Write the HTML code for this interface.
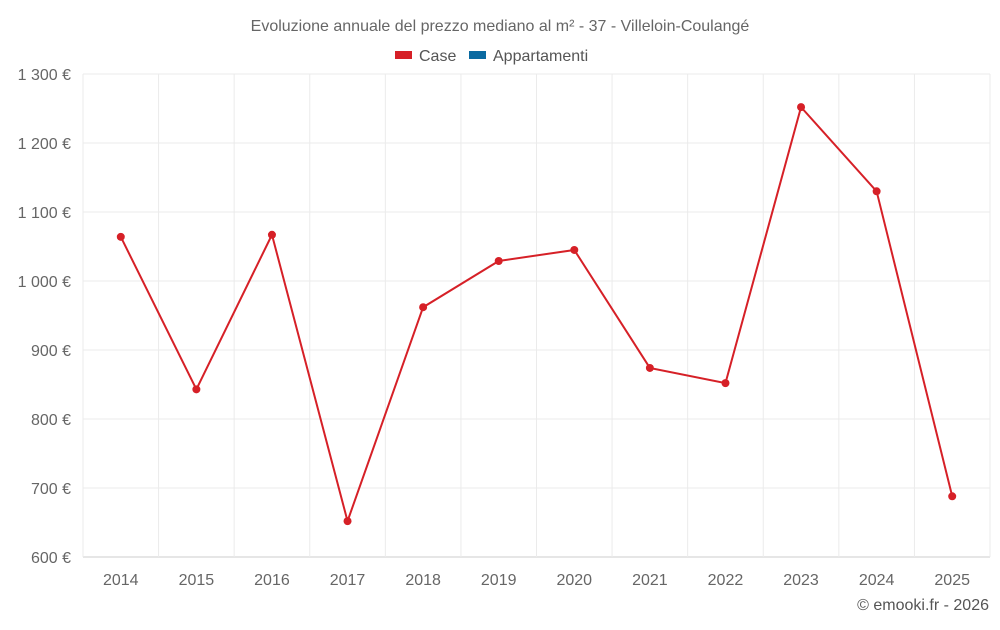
<!DOCTYPE html>
<html><head><meta charset="utf-8"><style>
body{margin:0;background:#fff;font-family:"Liberation Sans",sans-serif;}
svg text{font-family:"Liberation Sans",sans-serif;}
</style></head><body>
<svg id="chart" width="1000" height="625" xmlns="http://www.w3.org/2000/svg">
<text x="500" y="31" text-anchor="middle" font-size="16" fill="#666">Evoluzione annuale del prezzo mediano al m² - 37 - Villeloin-Coulangé</text>
<g><rect x="395" y="51" width="17" height="8" fill="#d62027"/><text x="419" y="61" font-size="16" fill="#555">Case</text></g>
<g><rect x="469" y="51" width="17" height="8" fill="#0a6aa1"/><text x="493" y="61" font-size="16" fill="#555">Appartamenti</text></g>
<g id="grid"></g><g id="axes"></g><g id="series"></g>
<text x="989" y="610" text-anchor="end" font-size="16" fill="#555">© emooki.fr - 2026</text>
</svg>
<script>
const categories=["2014","2015","2016","2017","2018","2019","2020","2021","2022","2023","2024","2025"];
const caseValues=[1064,843,1067,652,962,1029,1045,874,852,1252,1130,688];
const yTicks=[600,700,800,900,1000,1100,1200,1300];
const tickLabels=["600 €","700 €","800 €","900 €","1 000 €","1 100 €","1 200 €","1 300 €"];
const L=83,R=990,T=74,B=557,yMin=600,yMax=1300;
const NS="http://www.w3.org/2000/svg";
const bw=(R-L)/categories.length;
const x=i=>L+bw*(i+0.5);
const y=v=>B-(v-yMin)/(yMax-yMin)*(B-T);
function mk(t,a,p){const e=document.createElementNS(NS,t);for(const k in a)e.setAttribute(k,a[k]);p.appendChild(e);return e;}
const grid=document.getElementById('grid'),axes=document.getElementById('axes'),ser=document.getElementById('series');
yTicks.forEach((v,i)=>{
 const l=mk('line',{x1:L,x2:R,y1:y(v),y2:y(v),stroke:i==0?'#ccc':'#ebebeb'},grid);
 
 
 const t=mk('text',{x:71,y:y(v)+6,'text-anchor':'end','font-size':16,fill:'#666'},axes);
 t.textContent=tickLabels[i];
 
 
});
for(let i=0;i<=categories.length;i++){
 const l=mk('line',{x1:L+bw*i,x2:L+bw*i,y1:T,y2:B,stroke:'#ebebeb'},grid);
 
 
}
categories.forEach((c,i)=>{
 const t=mk('text',{x:x(i),y:585,'text-anchor':'middle','font-size':16,fill:'#666'},axes);
 t.textContent=c;
 
 
});
const pl=mk('polyline',{points:caseValues.map((v,i)=>x(i)+','+y(v)).join(' '),fill:'none',stroke:'#d62027','stroke-width':2},ser);


caseValues.forEach((v,i)=>{
 const c=mk('circle',{cx:x(i),cy:y(v),r:4,fill:'#d62027'},ser);
 
 
});
</script>
</body></html>
